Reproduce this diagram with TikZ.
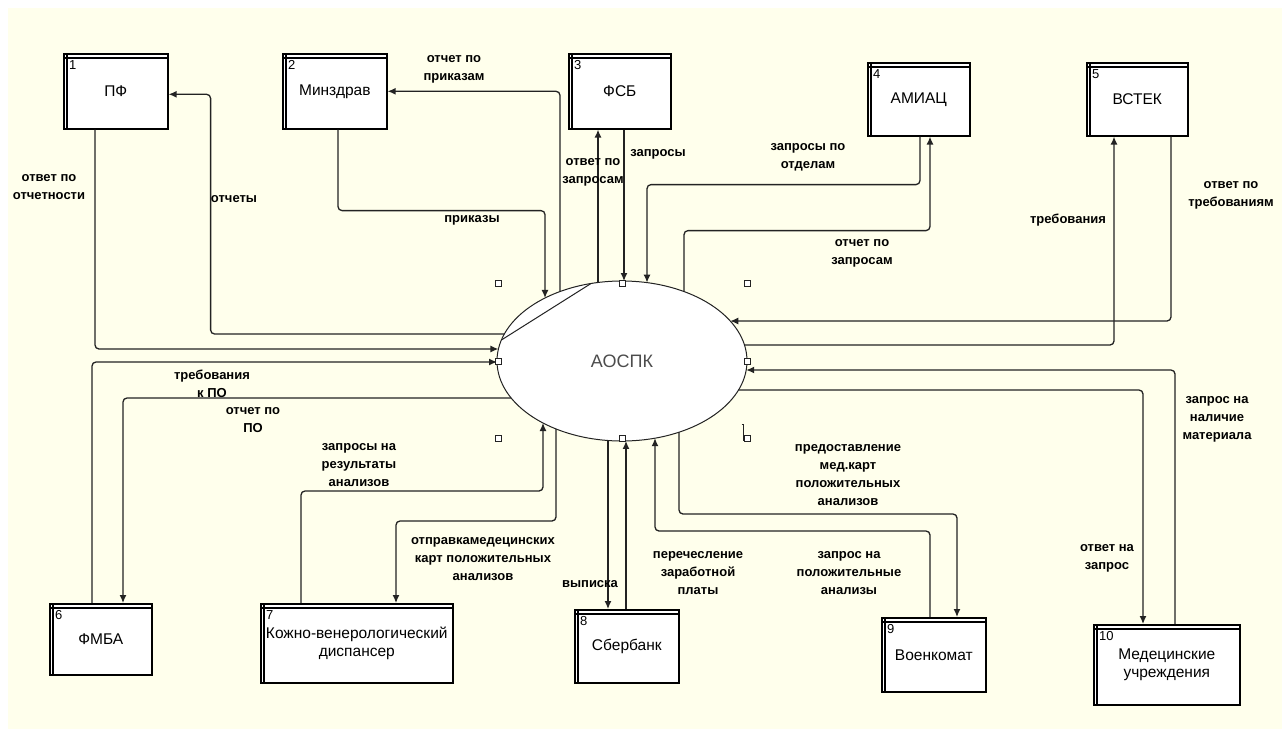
\documentclass[tikz,border=0pt]{standalone}
\usepackage{fontspec}
\setmainfont{Liberation Sans}
\usetikzlibrary{arrows.meta,calc,shapes.geometric}
\definecolor{cream}{RGB}{255,255,236}
\definecolor{ink}{RGB}{35,35,35}
\tikzset{
	entity/.style={draw=black, line width=1.6pt, fill=white, anchor=north west, inner sep=1pt, align=center, font=\fontsize{15.5}{18}\selectfont},
	num/.style={anchor=north west, inner sep=0pt, xshift=6pt, yshift=-7pt, font=\fontsize{13}{13}\selectfont},
	flow/.style={draw=ink, line width=1.3pt, rounded corners=4pt, -{Latex[length=8pt,width=7pt]}},
	plain/.style={draw=ink, line width=1.3pt, rounded corners=4pt},
	lbl/.style={align=center, inner sep=0pt, font=\bfseries\fontsize{13}{18}\selectfont},
	handle/.style={draw=ink, fill=white, line width=0.8pt, minimum size=6pt, inner sep=0pt}
}
% points on the border of the process ellipse (rx=125, ry=80)
\newcommand{\elx}[2]{($(aospk.center)+(#1,{#2*80*sqrt(1-(#1/125)^2)})$)}
\newcommand{\ely}[2]{($(aospk.center)+({#2*125*sqrt(1-(#1/80)^2)},#1)$)}
\begin{document}
\begin{tikzpicture}[x=1pt,y=-1pt]
	\useasboundingbox (0,0) rectangle (1282,729);
	\fill[white] (0,0) rectangle (1282,729);
	\fill[cream] (8,8) rectangle (1282,729);

	% external entities
	\node[entity, minimum width=104pt, minimum height=75pt, label={[num]north west:1}] (pf) at (63,53) {ПФ};
	\node[entity, minimum width=104pt, minimum height=75pt, label={[num]north west:2}] (minz) at (282,53) {Минздрав};
	\node[entity, minimum width=102pt, minimum height=75pt, label={[num]north west:3}] (fsb) at (568,53) {ФСБ};
	\node[entity, minimum width=102pt, minimum height=73pt, label={[num]north west:4}] (amiac) at (867,62) {АМИАЦ};
	\node[entity, minimum width=101pt, minimum height=73pt, label={[num]north west:5}] (vstek) at (1086,62) {ВСТЕК};
	\node[entity, minimum width=102pt, minimum height=71pt, label={[num]north west:6}] (fmba) at (49,603) {ФМБА};
	\node[entity, minimum width=192pt, minimum height=79pt, label={[num]north west:7}] (kvd) at (260,603) {Кожно-венерологический\\диспансер};
	\node[entity, minimum width=104pt, minimum height=73pt, label={[num]north west:8}] (sber) at (574,609) {Сбербанк};
	\node[entity, minimum width=104pt, minimum height=74pt, label={[num]north west:9}] (voenk) at (881,617) {Военкомат};
	\node[entity, minimum width=146pt, minimum height=80pt, label={[num]north west:10}] (med) at (1093,624) {Медецинские\\учреждения};
	\foreach \b in {pf,minz,fsb,amiac,vstek,fmba,kvd,sber,voenk,med}
		\draw[black, line width=1.2pt] ([yshift=-5pt]\b.north west) -- ([yshift=-5pt]\b.north east)
			([xshift=4pt]\b.north west) -- ([xshift=4pt]\b.south west);

	% process
	\node[ellipse, draw=ink, line width=1pt, fill=white, minimum width=250pt, minimum height=160pt, inner sep=0pt, text=black!70, font=\fontsize{18}{18}\selectfont] (aospk) at (622,361) {АОСПК};
	\draw[ink, line width=1pt] \elx{-31}{-1} -- \ely{-21}{-1};

	% flows
	\draw[flow] ([xshift=32pt]pf.south west) |- \ely{-12}{-1};
	\draw[flow] \ely{-27}{-1} -| ([xshift=42pt,yshift=-3pt]pf.east) -- ([yshift=-3pt]pf.east);
	\draw[flow] \elx{-62}{-1} |- (minz.east);
	\draw[flow] ([xshift=56pt]minz.south west) -- ([xshift=56pt,yshift=-81pt]minz.south west) -| \elx{-77}{-1};
	\draw[flow] \elx{-24}{-1} -- ([xshift=30pt]fsb.south west);
	\draw[flow] ([xshift=56pt]fsb.south west) -- \elx{2}{-1};
	\draw[flow] ([xshift=53pt]amiac.south west) -- ([xshift=53pt,yshift=-48pt]amiac.south west) -| \elx{25}{-1};
	\draw[flow] \elx{62}{-1} |- ([xshift=63pt,yshift=-94pt]amiac.south west) -- ([xshift=63pt]amiac.south west);
	\draw[flow] \ely{-16}{1} -| ([xshift=28pt]vstek.south west);
	\draw[flow] ([xshift=85pt]vstek.south west) |- \ely{-40}{1};
	\draw[flow] ([xshift=82pt]med.north west) |- \ely{9}{1};
	\draw[flow] \ely{29}{1} -| ([xshift=50pt]med.north west);
	\draw[flow] \elx{57}{1} |- ([xshift=76pt,yshift=103pt]voenk.north west) -- ([xshift=76pt]voenk.north west);
	\draw[flow] ([xshift=49pt]voenk.north west) -- ([xshift=49pt,yshift=86pt]voenk.north west) -| \elx{33}{1};
	\draw[flow] ([xshift=52pt]sber.north west) -- \elx{4}{1};
	\draw[flow] \elx{-14}{1} -- ([xshift=34pt]sber.north west);
	\draw[flow] \elx{-66}{1} |- ([xshift=136pt,yshift=82pt]kvd.north west) -- ([xshift=136pt]kvd.north west);
	\draw[flow] ([xshift=41pt]kvd.north west) -- ([xshift=41pt,yshift=112pt]kvd.north west) -| \elx{-79}{1};
	\draw[flow] ([xshift=43pt]fmba.north west) |- \ely{1}{-1};
	\draw[flow] \ely{37}{-1} -| ([xshift=74pt]fmba.north west);

	% selection handles
	\foreach \p [count=\i] in {(498,283),(622,283),(747,283),(498,361),(747,361),(498,438),(622,438),(747,438)}
		\node[handle] (h\i) at \p {};
	\draw[ink, line width=1pt] ([xshift=-2pt,yshift=10pt]h8.north west) -- ([yshift=10pt]h8.north west) -- (h8.south west);

	% flow labels
	\node[lbl] (l1) at (49,187) {ответ по\\отчетности};
	\node[lbl] (l2) at (234,199) {отчеты};
	\node[lbl] (l3) at (454,69) {отчет по\\приказам};
	\node[lbl] (l4) at (472,220) {приказы};
	\node[lbl] (l5) at (593,172) {ответ по\\запросам};
	\node[lbl] (l6) at (658,154) {запросы};
	\node[lbl] (l7) at (808,157) {запросы по\\отделам};
	\node[lbl] (l8) at (862,253) {отчет по\\запросам};
	\node[lbl] (l9) at (1068,220) {требования};
	\node[lbl] (l10) at (1231,195) {ответ по\\требованиям};
	\node[lbl] (l11) at (212,384) {требования\\к ПО};
	\node[lbl] (l12) at (253,420) {отчет по\\ПО};
	\node[lbl] (l13) at (359,465) {запросы на\\результаты\\анализов};
	\node[lbl] (l14) at (483,559) {отправкамедецинских\\карт положительных\\анализов};
	\node[lbl] (l15) at (590,584) {выписка};
	\node[lbl] (l16) at (698,573) {перечесление\\заработной\\платы};
	\node[lbl] (l17) at (849,573) {запрос на\\положительные\\анализы};
	\node[lbl] (l18) at (848,475) {предоставление\\мед.карт\\положительных\\анализов};
	\node[lbl] (l19) at (1107,558) {ответ на\\запрос};
	\node[lbl] (l20) at (1217,419) {запрос на\\наличие\\материала};
\end{tikzpicture}
\end{document}
